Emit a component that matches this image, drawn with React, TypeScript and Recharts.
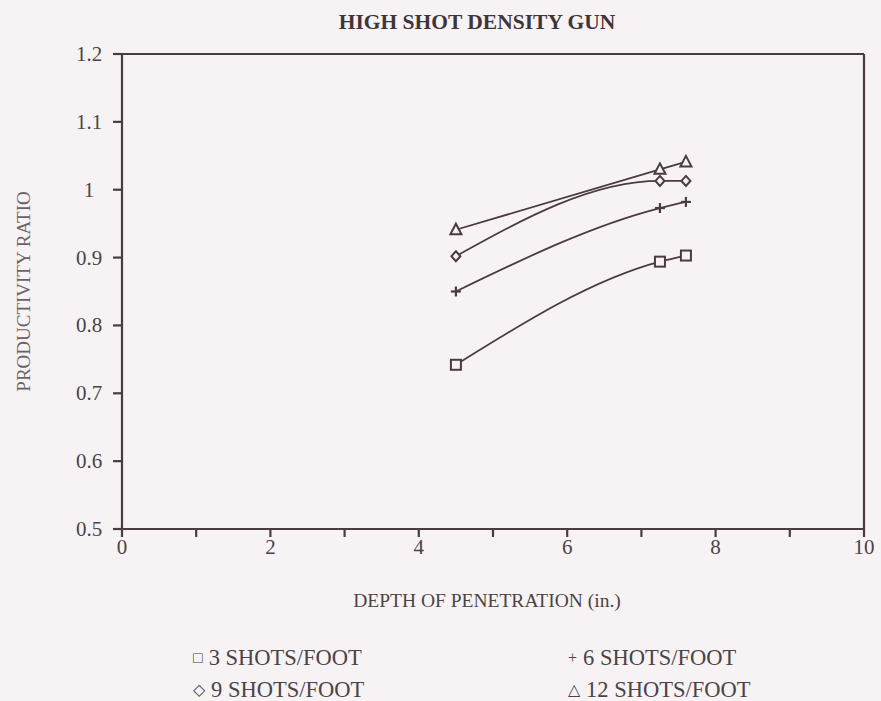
import { LineChart, Line, XAxis, YAxis, ReferenceLine } from "recharts"

// depth of penetration (in.) for each measured point
const depths = [4.5, 7.25, 7.6]

// productivity ratio per shot density
const ratio3 = [0.742, 0.894, 0.903]
const ratio6 = [0.85, 0.973, 0.982]
const ratio9 = [0.902, 1.013, 1.013]
const ratio12 = [0.941, 1.03, 1.041]

const xTicks = [0, 1, 2, 3, 4, 5, 6, 7, 8, 9, 10]
const yTicks = [0.5, 0.6, 0.7, 0.8, 0.9, 1, 1.1, 1.2]

const ink = "#4a3b41"
const textInk = "#4b4346"
const paper = "#f7f3f5"
const serif = "'Liberation Serif', 'Times New Roman', serif"

type Marker = "square" | "plus" | "diamond" | "triangle"

const series: { name: string; values: number[]; marker: Marker; glyph: string }[] = [
  { name: "3 SHOTS/FOOT", values: ratio3, marker: "square", glyph: "□" },
  { name: "6 SHOTS/FOOT", values: ratio6, marker: "plus", glyph: "+" },
  { name: "9 SHOTS/FOOT", values: ratio9, marker: "diamond", glyph: "◇" },
  { name: "12 SHOTS/FOOT", values: ratio12, marker: "triangle", glyph: "△" },
]

const toRows = (values: number[]) => depths.map((x, i) => ({ x, y: values[i] }))

function MarkerDot({ cx, cy, marker }: any) {
  if (cx == null || cy == null) return null
  const common = { fill: paper, stroke: ink, strokeWidth: 2 }
  if (marker === "square") {
    return <rect x={cx - 5} y={cy - 5} width={10} height={10} {...common} />
  }
  if (marker === "diamond") {
    return (
      <polygon
        points={`${cx},${cy - 5} ${cx + 4.5},${cy} ${cx},${cy + 5} ${cx - 4.5},${cy}`}
        {...common}
      />
    )
  }
  if (marker === "triangle") {
    return (
      <polygon
        points={`${cx},${cy - 6} ${cx + 5.5},${cy + 4.5} ${cx - 5.5},${cy + 4.5}`}
        {...common}
      />
    )
  }
  return (
    <g stroke={ink} strokeWidth={2.2}>
      <line x1={cx - 5} y1={cy} x2={cx + 5} y2={cy} />
      <line x1={cx} y1={cy - 5} x2={cx} y2={cy + 5} />
    </g>
  )
}

function YTick({ x, y, payload }: any) {
  return (
    <text
      x={x - 22}
      y={y}
      textAnchor="middle"
      dominantBaseline="central"
      fill={textInk}
      fontSize={21}
      fontFamily={serif}
    >
      {payload.value}
    </text>
  )
}

function XTick({ x, y, payload }: any) {
  if (payload.value % 2 !== 0) return null
  return (
    <text
      x={x}
      y={y + 8}
      textAnchor="middle"
      dominantBaseline="central"
      fill={textInk}
      fontSize={21}
      fontFamily={serif}
    >
      {payload.value}
    </text>
  )
}

function LegendBlock() {
  return (
    <div
      style={{
        position: "absolute",
        left: 193,
        top: 645,
        display: "grid",
        gridTemplateColumns: "375px 240px",
        rowGap: 4,
        fontFamily: serif,
        fontSize: 22.5,
        color: textInk,
        lineHeight: "26px",
      }}
    >
      {series.map((s) => (
        <div key={s.name} style={{ whiteSpace: "nowrap" }}>
          <span style={{ fontSize: 16, marginRight: 6, position: "relative", top: -2 }}>{s.glyph}</span>
          {s.name}
        </div>
      ))}
    </div>
  )
}

export default function App() {
  return (
    <div
      style={{
        position: "absolute",
        left: 0,
        top: 0,
        width: 881,
        height: 701,
        background: paper,
        overflow: "hidden",
      }}
    >
      <div
        style={{
          position: "absolute",
          top: 10,
          left: 0,
          width: 954,
          textAlign: "center",
          fontFamily: serif,
          fontWeight: "bold",
          fontSize: 21.5,
          color: "#3f3538",
        }}
      >
        HIGH SHOT DENSITY GUN
      </div>
      <LineChart
        width={881}
        height={701}
        margin={{ top: 54, right: 17, left: 0, bottom: 132 }}
      >
        <XAxis
          type="number"
          dataKey="x"
          domain={[0, 10]}
          ticks={xTicks}
          interval={0}
          allowDataOverflow
          height={40}
          tickSize={8}
          tick={<XTick />}
          axisLine={{ stroke: ink, strokeWidth: 2.2 }}
          tickLine={{ stroke: ink, strokeWidth: 2.2 }}
          label={{
            value: "DEPTH OF PENETRATION (in.)",
            content: ({ viewBox }: any) => (
              <text
                x={viewBox.x + viewBox.width / 2 - 6}
                y={600}
                textAnchor="middle"
                dominantBaseline="central"
                fill={textInk}
                fontSize={19.5}
                fontFamily={serif}
              >
                DEPTH OF PENETRATION (in.)
              </text>
            ),
          }}
        />
        <YAxis
          type="number"
          dataKey="y"
          domain={[0.5, 1.2]}
          ticks={yTicks}
          interval={0}
          allowDataOverflow
          width={122}
          tickSize={9}
          tick={<YTick />}
          axisLine={{ stroke: ink, strokeWidth: 2.2 }}
          tickLine={{ stroke: ink, strokeWidth: 2.2 }}
          label={{
            value: "PRODUCTIVITY RATIO",
            content: ({ viewBox }: any) => {
              const cy = viewBox.y + viewBox.height / 2
              return (
                <text
                  x={23}
                  y={cy}
                  transform={`rotate(-90, 23, ${cy})`}
                  textAnchor="middle"
                  dominantBaseline="central"
                  fill="#6a6266"
                  fontSize={19}
                  fontFamily={serif}
                >
                  PRODUCTIVITY RATIO
                </text>
              )
            },
          }}
        />
        <ReferenceLine y={1.2} stroke={ink} strokeWidth={2.2} />
        <ReferenceLine x={10} stroke={ink} strokeWidth={2.2} />
        {series.map((s) => (
          <Line
            key={s.name}
            name={s.name}
            data={toRows(s.values)}
            dataKey="y"
            type="monotone"
            stroke={ink}
            strokeWidth={1.8}
            dot={(p: any) => <MarkerDot key={`${s.name}-${p.index}`} {...p} marker={s.marker} />}
            activeDot={false}
            isAnimationActive={false}
          />
        ))}
      </LineChart>
      <LegendBlock />
    </div>
  )
}
